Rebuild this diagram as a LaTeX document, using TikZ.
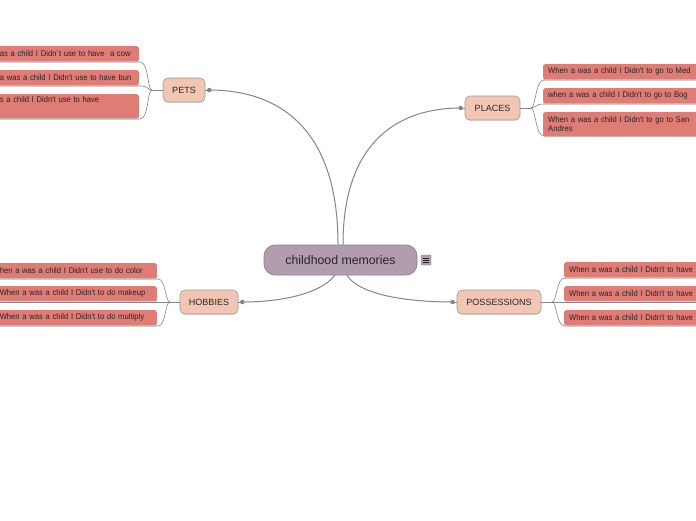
\documentclass[tikz,border=0pt]{standalone}
\usepackage{fontspec}
\setmainfont{Liberation Sans}
\newfontfamily\leaffont{Liberation Sans}[FakeStretch=0.93]
\usetikzlibrary{shadows,calc}
\definecolor{leafc}{HTML}{E07C76}
\definecolor{subc}{HTML}{F2C6B3}
\definecolor{centc}{HTML}{B19DAE}
\definecolor{linec}{HTML}{858585}
\definecolor{txtc}{HTML}{262626}
\tikzset{
  leaf/.style={fill=leafc, rounded corners=2pt, inner xsep=3pt, inner ysep=2pt,
    text=txtc, font=\leaffont\fontsize{8.2}{9.6}\selectfont, align=left, minimum height=15pt,
    drop shadow={shadow xshift=0pt, shadow yshift=-1.2pt, opacity=0.25}},
  subnode/.style={fill=subc, draw=linec!80, line width=0.6pt, rounded corners=5pt,
    minimum height=24pt, inner xsep=5pt, text=txtc, font=\fontsize{9}{10}\selectfont,
    drop shadow={shadow xshift=0pt, shadow yshift=-1.2pt, opacity=0.2}},
  central/.style={fill=centc, draw=linec, line width=0.7pt, rounded corners=11pt,
    minimum width=153pt, minimum height=30pt, text=txtc, font=\fontsize{12.3}{14}\selectfont},
  conn/.style={draw=linec, line width=1pt},
  branch/.style={draw=linec, line width=0.6pt},
  dotc/.style={fill=linec, circle, inner sep=0pt, minimum size=4.5pt},
}
\begin{document}
\begin{tikzpicture}[x=1pt,y=-1pt]
\useasboundingbox (0,0) rectangle (696,520);
\clip (0,0) rectangle (696,520);
\fill[white] (0,0) rectangle (696,520);

% central
\node[central] (c) at (340.5,260) {childhood memories};
\node[fill=centc, draw=centc!80!black, rounded corners=1pt, minimum size=10pt, inner sep=0pt] (menu) at (426,260) {};
\foreach \dy in {-2,0,2} \draw[txtc, line width=0.5pt] ($(menu.center)+(-2.8,\dy)$) -- ($(menu.center)+(2.8,\dy)$);

% sub nodes
\node[subnode, minimum width=42pt] (pets) at (184,90) {PETS};
\node[subnode, minimum width=55pt] (places) at (492.5,108) {PLACES};
\node[subnode, minimum width=58pt] (hob) at (209,302) {HOBBIES};
\node[subnode, minimum width=84pt] (pos) at (499,302) {POSSESSIONS};

% main connectors
\coordinate (cn1) at ($(c.north)+(-2.5,0)$);
\coordinate (cn2) at ($(c.north)+(2.5,0)$);
\coordinate (cs1) at ($(c.south)+(-5.5,0)$);
\coordinate (cs2) at ($(c.south)+(6.5,0)$);
\node[dotc] (dp) at ($(pets.east)+(4,0)$) {};
\node[dotc] (dpl) at ($(places.west)+(-4,0)$) {};
\node[dotc] (dh) at ($(hob.east)+(4,0)$) {};
\node[dotc] (dpo) at ($(pos.west)+(-4,0)$) {};
\draw[conn] (cn1) .. controls (338,115) and (265,90) .. (dp.center);
\draw[conn] (cn2) .. controls (343,140) and (400,108) .. (dpl.center);
\draw[conn] (cs1) .. controls (318,296) and (275,302) .. (dh.center);
\draw[conn] (cs2) .. controls (362,298) and (420,302) .. (dpo.center);
\draw[conn] (dp.center) -- (pets.east);
\draw[conn] (dpl.center) -- (places.west);
\draw[conn] (dh.center) -- (hob.east);
\draw[conn] (dpo.center) -- (pos.west);

% PETS leaves
\coordinate (jp) at (152,90);
\draw[branch] (pets.west) -- (jp);
\draw[branch] (jp) .. controls (147,90) and (149,62) .. (140,62) -- (0,62);
\draw[branch] (jp) .. controls (147,90) and (149,86) .. (140,86) -- (0,86);
\draw[branch] (jp) .. controls (147,90) and (149,119) .. (140,119) -- (0,119);
\node[leaf, anchor=north east, text width=136pt] (p1) at (139,46) {\mbox{as a child I Didn´t use to have \ a cow}};
\node[leaf, anchor=north east, text width=136pt] (p2) at (139,70) {\mbox{a was a child I Didn't use to have bun}};
\node[leaf, anchor=north east, text width=136pt, minimum height=24pt] (p3) at (139,94) {s a child I Didn't use to have\\\strut};

% PLACES leaves
\coordinate (jpl) at (531,108);
\draw[branch] (places.east) -- (jpl);
\draw[branch] (jpl) .. controls (536,108) and (535,80) .. (544,80) -- (696,80);
\draw[branch] (jpl) .. controls (536,108) and (535,104) .. (544,104) -- (696,104);
\draw[branch] (jpl) .. controls (536,108) and (535,136) .. (544,136) -- (696,136);
\node[leaf, anchor=north west, inner xsep=5pt, text width=170pt] (l1) at (543,64) {When a was a child I Didn't to go to Med};
\node[leaf, anchor=north west, inner xsep=5pt, text width=170pt] (l2) at (543,88) {when a was a child I Didn't to go to Bog};
\node[leaf, anchor=north west, inner xsep=5pt, text width=170pt, minimum height=24pt] (l3) at (543,112) {When a was a child I Didn't to go to San\\Andres};

% HOBBIES leaves
\coordinate (jh) at (170,302);
\draw[branch] (hob.west) -- (jh);
\draw[branch] (jh) .. controls (165,302) and (166,279) .. (158,279) -- (0,279);
\draw[branch] (jh) -- (0,302);
\draw[branch] (jh) .. controls (165,302) and (166,326) .. (158,326) -- (0,326);
\node[leaf, anchor=north east, text width=154pt] (h1) at (157,263) {\mbox{hen a was a child I Didn't use to do color}};
\node[leaf, anchor=north east, text width=154pt] (h2) at (157,286) {\mbox{When a was a child I Didn't to do makeup}};
\node[leaf, anchor=north east, text width=154pt] (h3) at (157,310) {\mbox{When a was a child I Didn't to do multiply}};

% POSSESSIONS leaves
\coordinate (jpo) at (552,302);
\draw[branch] (pos.east) -- (jpo);
\draw[branch] (jpo) .. controls (557,302) and (556,278) .. (565,278) -- (696,278);
\draw[branch] (jpo) -- (696,302);
\draw[branch] (jpo) .. controls (557,302) and (556,326) .. (565,326) -- (696,326);
\node[leaf, anchor=north west, inner xsep=5pt, text width=150pt] (o1) at (564,262) {When a was a child I Didn't to have};
\node[leaf, anchor=north west, inner xsep=5pt, text width=150pt] (o2) at (564,286) {When a was a child I Didn't to have};
\node[leaf, anchor=north west, inner xsep=5pt, text width=150pt] (o3) at (564,310) {When a was a child I Didn't to have};
\end{tikzpicture}
\end{document}
